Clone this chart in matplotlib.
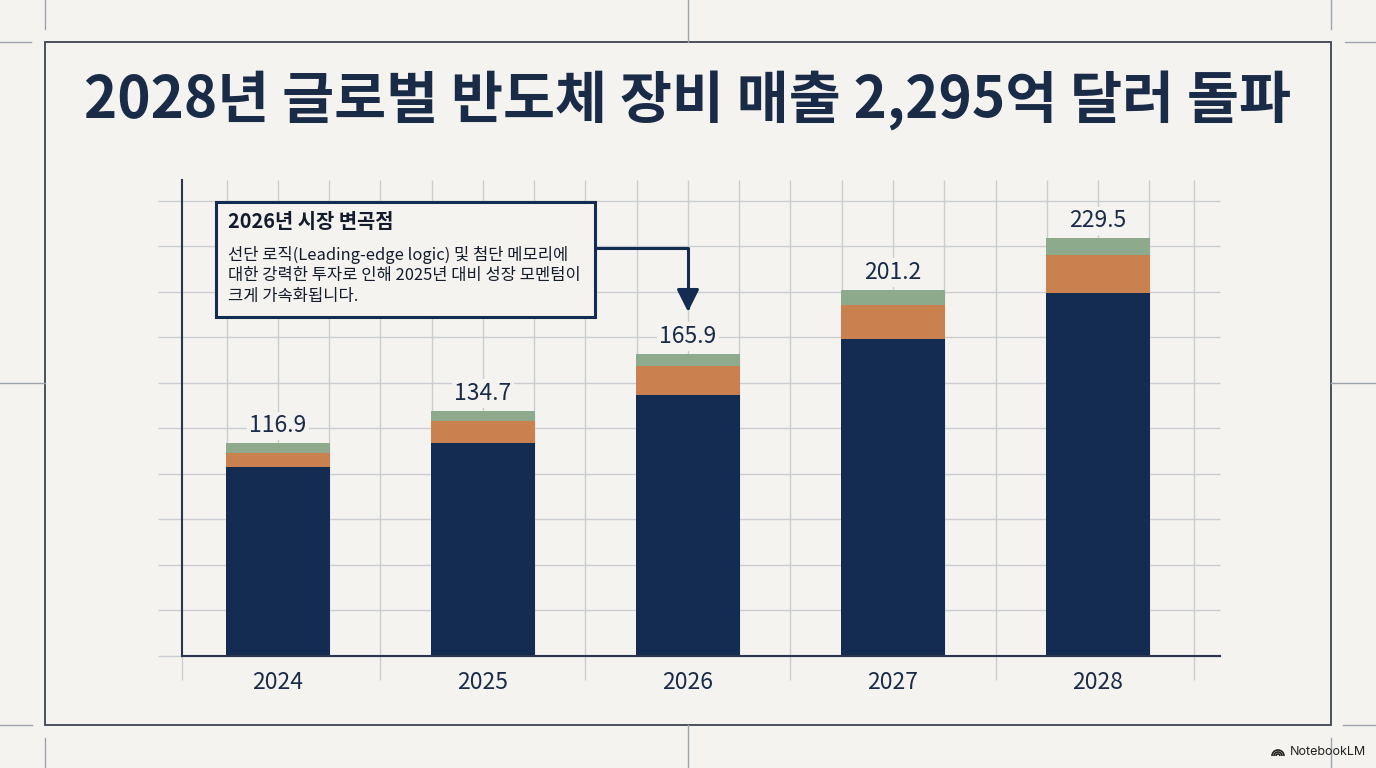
import matplotlib
matplotlib.use('Agg')
import matplotlib.pyplot as plt
from matplotlib.patches import Rectangle, Arc
from matplotlib.lines import Line2D

plt.rcParams['font.family'] = ['Noto Sans CJK KR', 'DejaVu Sans']

# ---- data ----
years = ['2024', '2025', '2026', '2027', '2028']
core = [104.0, 117.0, 143.2, 174.4, 199.5]     # navy segment
mid = [7.7, 12.0, 15.9, 18.5, 21.0]            # orange segment
top = [5.2, 5.7, 6.8, 8.3, 9.0]                # green segment
totals = [116.9, 134.7, 165.9, 201.2, 229.5]
y_grid = [0, 25, 50, 75, 100, 125, 150, 175, 200, 225, 250]

title = '2028년 글로벌 반도체 장비 매출 2,295억 달러 돌파'
box_title = '2026년 시장 변곡점'
box_lines = ['선단 로직(Leading-edge logic) 및 첨단 메모리에',
             '대한 강력한 투자로 인해 2025년 대비 성장 모멘텀이',
             '크게 가속화됩니다.']

# ---- style ----
BG = '#f4f3ef'
NAVY = '#152c52'
ORANGE = '#c8814f'
GREEN = '#8dab8c'
GRID = '#cbcdd1'
TXT = '#1a2b48'
MARK = '#9ea4ad'

W, H = 1376, 768
fig = plt.figure(figsize=(W / 100, H / 100), dpi=100)
fig.patch.set_facecolor(BG)


def fx(x):
    return x / W


def fy(y):
    return 1 - y / H


# frame and crop marks
fig.add_artist(Rectangle((fx(45), fy(725)), (1331 - 45) / W, (725 - 42) / H,
                         transform=fig.transFigure, fc='none', ec='#3d4452', lw=1.3))
marks = [((45, 45), (0, 29)), ((45, 45), (738, 768)),
         ((1331, 1331), (0, 29)), ((1331, 1331), (738, 768)),
         ((0, 31), (42, 42)), ((1345, 1376), (42, 42)),
         ((0, 32), (725, 725)), ((1343, 1376), (725, 725)),
         ((688, 688), (0, 42)), ((688, 688), (725, 768)),
         ((0, 45), (383, 383)), ((1331, 1376), (383, 383))]
for (xs, ys) in marks:
    fig.add_artist(Line2D([fx(v) for v in xs], [fy(v) for v in ys],
                          transform=fig.transFigure, color=MARK, lw=1.0))

# title
fig.text(0.5, fy(101), title, ha='center', va='center', fontsize=40.7,
         fontweight='bold', color=TXT)

# ---- axes ----
ax = fig.add_axes([fx(182), fy(656), (1220 - 182) / W, (656 - 180) / H])
ax.set_facecolor('none')
ax.set_xlim(-0.468, 4.595)
ax.set_ylim(0, 261.5)

# grid
ax.hlines(y_grid, -0.585, 4.595, color=GRID, lw=1.0, zorder=0, clip_on=False)
vx = [k * 0.25 for k in range(-1, 18)] + [4.468]
ax.vlines(vx, 0, 261.5, color=GRID, lw=1.0, zorder=0)
ext = [-0.468, 0.5, 1.5, 2.5, 3.5, 4.468]
ax.vlines(ext, -13.2, 0, color=GRID, lw=1.0, zorder=0, clip_on=False)

for s in ['top', 'right']:
    ax.spines[s].set_visible(False)
ax.spines['left'].set_color('#2a3550')
ax.spines['left'].set_linewidth(1.5)
ax.spines['bottom'].set_color('#2a3550')
ax.spines['bottom'].set_linewidth(1.5)
ax.set_yticks([])

x = list(range(len(years)))
bw = 0.507
ax.bar(x, core, width=bw, color=NAVY, zorder=2)
b2 = [c for c in core]
ax.bar(x, mid, width=bw, bottom=b2, color=ORANGE, zorder=2)
b3 = [c + m for c, m in zip(core, mid)]
ax.bar(x, top, width=bw, bottom=b3, color=GREEN, zorder=2)

ax.set_xticks(x)
ax.set_xticklabels(years, fontsize=16.5, color=TXT)
ax.tick_params(axis='x', length=0, pad=11)

for i, t in enumerate(totals):
    ax.annotate(f'{t:.1f}', xy=(i, t), xytext=(0, 12.5), textcoords='offset points',
                ha='center', va='center', fontsize=16.5, color=TXT, zorder=4,
                bbox=dict(boxstyle='square,pad=0.12', fc=BG, ec='none'))

# callout box
fig.add_artist(Rectangle((fx(216), fy(317)), (595 - 216) / W, (317 - 202) / H,
                         transform=fig.transFigure, fc=BG, ec=NAVY, lw=2.2, zorder=5))
fig.text(fx(228), fy(222), box_title, ha='left', va='center', fontsize=14.3,
         fontweight='bold', color='#141c2c', zorder=6)
for j, line in enumerate(box_lines):
    fig.text(fx(228), fy(255 + 20.5 * j), line, ha='left', va='center',
             fontsize=11.9, color='#141c2c', zorder=6)

ax.annotate('', xy=(2, totals[2]), xycoords='data',
            xytext=(595, H - 248), textcoords='figure pixels',
            arrowprops=dict(arrowstyle='-|>', color=NAVY, lw=2.2,
                            mutation_scale=34, shrinkA=0, shrinkB=30.4,
                            connectionstyle='angle,angleA=0,angleB=90,rad=0'),
            zorder=6, annotation_clip=False)

# watermark
fig.text(fx(1290), fy(752), 'NotebookLM', ha='left', va='center', fontsize=9,
         color='#222222', family=['Inter', 'DejaVu Sans'])
for r in [2, 4, 6]:
    fig.add_artist(Arc((fx(1278), fy(756)), 2 * r / W, 2 * r / H, theta1=0, theta2=180,
                       transform=fig.transFigure, color='#222222', lw=1.2))

fig.savefig('out.png', dpi=100, facecolor=BG)
